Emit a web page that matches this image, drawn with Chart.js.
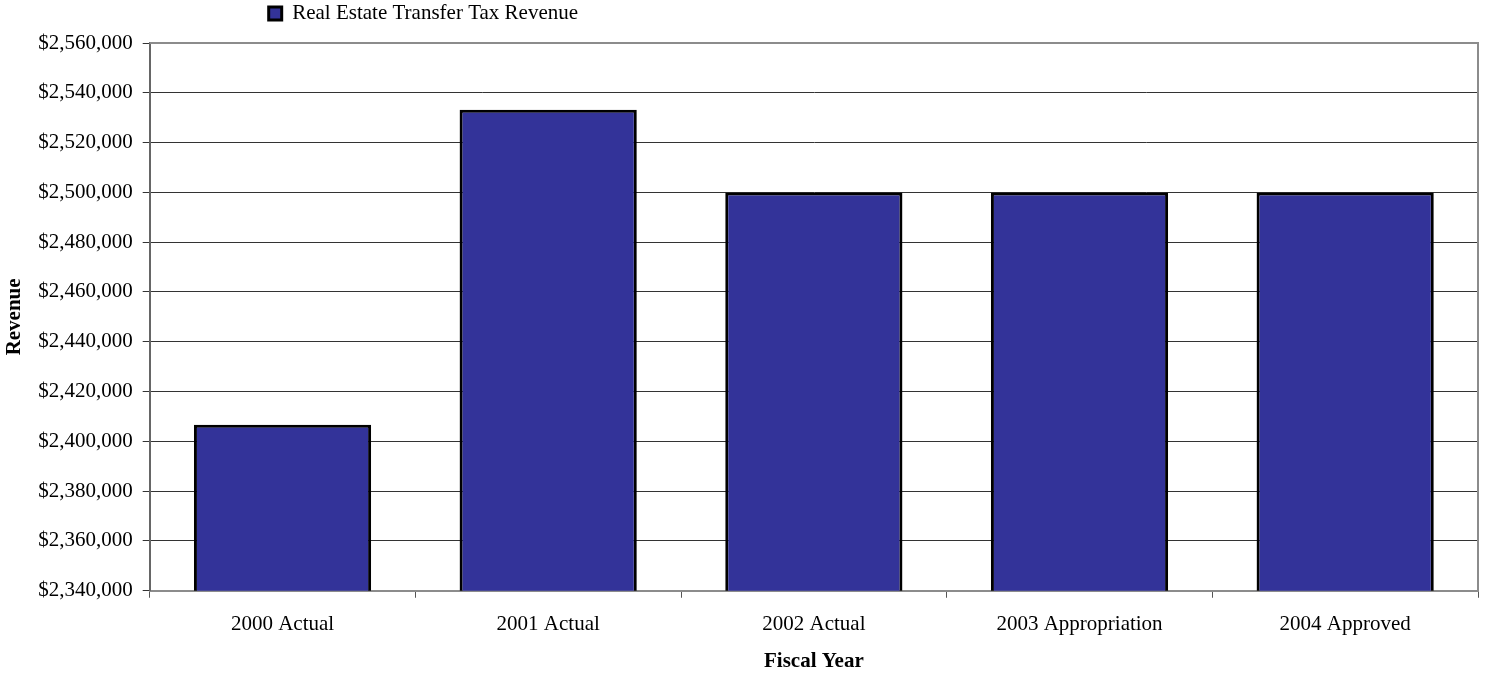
<!DOCTYPE html>
<html>
<head>
<meta charset="utf-8">
<title>Real Estate Transfer Tax Revenue</title>
<script src="https://cdn.jsdelivr.net/npm/chart.js@4.4.1/dist/chart.umd.min.js"></script>
<style>
    body { margin: 0; background: #fff; }
    canvas { display: block; }
</style>
</head>
<body>
<canvas id="revenueChart" width="1485" height="673"></canvas>
<script>
    // fiscal years and revenue figures
    const fiscalYears = ["2000 Actual", "2001 Actual", "2002 Actual", "2003 Appropriation", "2004 Approved"];
    const transferTaxRevenue = [2406700, 2533200, 2500000, 2500000, 2500000];

    // value axis range
    const axisMin = 2340000;
    const axisMax = 2560000;
    const axisStep = 20000;

    //set colors
    let barColor = "#333399";
    let barEdgeColor = "#000000";
    let frameColor = "#8c8c8c";
    let gridColor = "#333333";

    const serif = '"Liberation Serif", "Times New Roman", serif';

    Chart.defaults.font.family = serif;
    Chart.defaults.font.size = 21;
    Chart.defaults.color = "#000";

    // gray frame on the top and right side of the plot
    const plotFrame = {
        id: 'plotFrame',
        afterDatasetsDraw(chart) {
            const { ctx, chartArea } = chart;
            ctx.save();
            ctx.strokeStyle = frameColor;
            ctx.lineWidth = 2;
            ctx.beginPath();
            ctx.moveTo(chartArea.left, chartArea.top);
            ctx.lineTo(chartArea.right, chartArea.top);
            ctx.lineTo(chartArea.right, chartArea.bottom);
            ctx.stroke();
            ctx.restore();
        }
    };

    // legend sits above the plot, off to the left
    const legendPlacement = {
        id: 'legendPlacement',
        afterLayout(chart) {
            chart.legend.left = chart.chartArea.left + 116;
            chart.legend.top = 0;
        }
    };

    const ctx = document.getElementById("revenueChart");

    let data = {
        labels: fiscalYears,
        datasets: [
            {
                label: "Real Estate Transfer Tax Revenue",
                data: transferTaxRevenue,
                backgroundColor: barColor,
                borderColor: barEdgeColor,
                borderWidth: 3,
                borderSkipped: false,
                barPercentage: 0.667,
                categoryPercentage: 1
            }
        ]
    };

    new Chart(ctx, {
        type: 'bar',
        data: data,
        plugins: [plotFrame, legendPlacement],
        options: {
            responsive: false,
            animation: false,
            layout: {
                padding: { top: 9, right: 7, bottom: 0, left: 0 }
            },
            plugins: {
                legend: {
                    display: true,
                    position: 'top',
                    align: 'start',
                    labels: {
                        boxWidth: 13,
                        boxHeight: 13,
                        padding: 3,
                        color: "#000",
                        font: { family: serif, size: 21 }
                    }
                },
                tooltip: { enabled: false }
            },
            scales: {
                x: {
                    offset: true,
                    grid: {
                        display: true,
                        offset: true,
                        drawOnChartArea: false,
                        tickLength: 7,
                        color: "#555"
                    },
                    border: { display: true, color: frameColor, width: 2 },
                    ticks: { padding: 14, maxRotation: 0, color: "#000" },
                    title: {
                        display: true,
                        text: "Fiscal Year",
                        font: { weight: 'bold', lineHeight: 1.05 },
                        padding: { top: 0, bottom: 0 }
                    }
                },
                y: {
                    min: axisMin,
                    max: axisMax,
                    grid: {
                        color: gridColor,
                        lineWidth: 1,
                        tickLength: 7
                    },
                    border: { display: true, color: "#666", width: 2 },
                    ticks: {
                        stepSize: axisStep,
                        padding: 10,
                        color: "#000",
                        callback: function (value) {
                            return "$" + value.toLocaleString("en-US");
                        }
                    },
                    title: {
                        display: true,
                        text: "Revenue",
                        font: { weight: 'bold' },
                        padding: { top: 2, bottom: 1 }
                    }
                }
            }
        }
    });
</script>
</body>
</html>
